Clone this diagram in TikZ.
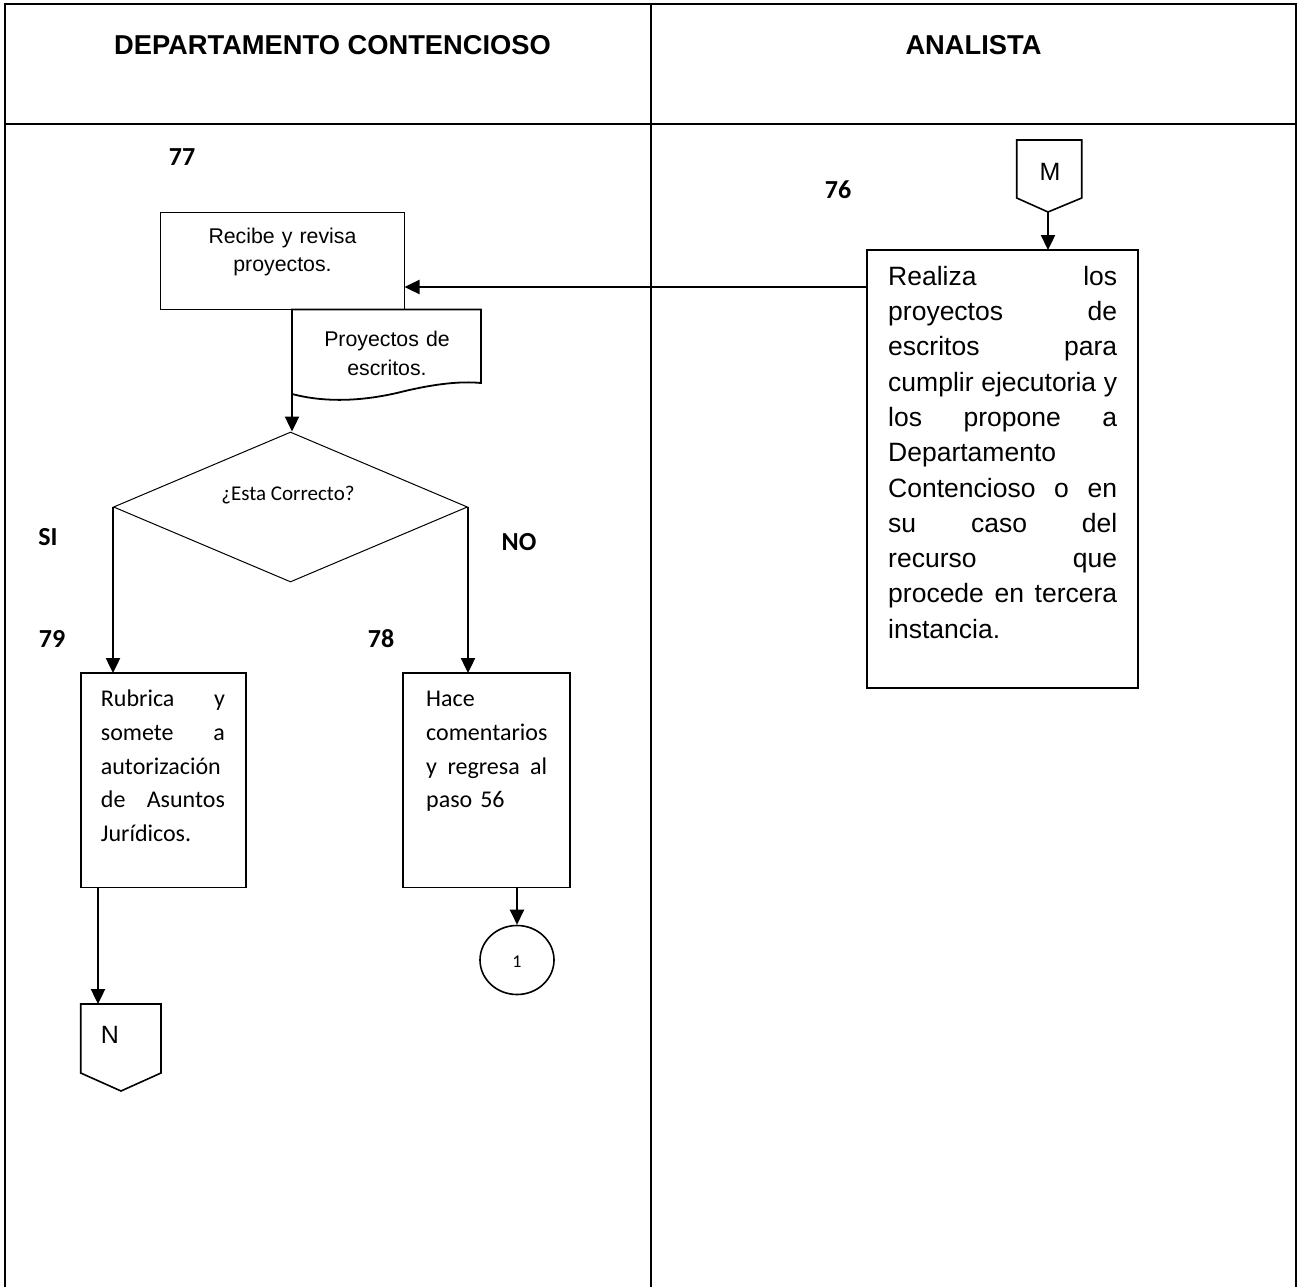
\documentclass[tikz,border=0pt]{standalone}
\usepackage{fontspec}
\setmainfont{Liberation Sans}
\newfontfamily\calfont{Carlito}
\usetikzlibrary{arrows.meta,shapes.geometric}
% stretchable inter-word gap for full-justified lines
\newcommand\jsp{\hskip .28em plus 1fill\relax}
\newcommand\jline[2]{\leavevmode\hbox to #1{#2}}

\begin{document}
\begin{tikzpicture}[x=1pt,y=-1pt,
  lane/.style={line width=1.6pt},
  procbox/.style={draw, line width=1.8pt, inner sep=0pt, outer sep=0pt},
  flow/.style={line width=2.4pt, -{Triangle[length=15pt,width=14pt]}},
  headtxt/.style={font=\bfseries\fontsize{27.3}{32}\selectfont, anchor=base, inner sep=0pt},
  steplbl/.style={font=\calfont\bfseries\fontsize{26}{30}\selectfont, anchor=base, inner sep=0pt},
  arialtxt/.style={inner sep=0pt, anchor=north west, align=left},
  calbtxt/.style={inner sep=0pt, anchor=north west, align=left,
    font=\calfont\fontsize{24}{33.7}\selectfont}
]
\useasboundingbox (0,0) rectangle (1299,1287);

% swimlane table
\draw[lane] (5,1287) -- (5,4) -- (1296,4) -- (1296,1287);
\draw[line width=2.6pt] (5,4) -- (1296,4);
\draw[lane] (5,124) -- (1296,124);
\draw[lane] (651,4) -- (651,1287);
\node[headtxt] (hdep) at (332.5,55) {DEPARTAMENTO CONTENCIOSO};
\node[headtxt] (hana) at (973.5,55) {ANALISTA};

% step numbers and branch labels
\node[steplbl] (n77) at (182,165) {77};
\node[steplbl] (n76) at (838,199) {76};
\node[steplbl] (si) at (48,545.7) {SI};
\node[steplbl] (no) at (519,550) {NO};
\node[steplbl] (n79) at (52,647.5) {79};
\node[steplbl] (n78) at (381,647.5) {78};

% off-page connector M
\coordinate (mtip) at (1048,212);
\draw[line width=1.6pt, line join=miter] (1016.7,140) -- (1081.7,140) -- (1081.7,198) -- (mtip) -- (1016.7,198) -- cycle;
\node[font=\fontsize{25}{30}\selectfont, anchor=base, inner sep=0pt] (mlbl) at (1050,180) {M};

% analyst process box
\node[procbox, minimum width=271pt, minimum height=438pt] (ana) at (1002.5,469) {};
\node[arialtxt, text width=229pt, font=\fontsize{26.5}{35.3}\selectfont] (anatxt) at (888,260.3) {%
\strut\jline{229pt}{Realiza\jsp los}\\
\jline{229pt}{proyectos\jsp de}\\
\jline{229pt}{escritos\jsp para}\\
\jline{229pt}{cumplir\jsp ejecutoria\jsp y}\\
\jline{229pt}{los\jsp propone\jsp a}\\
Departamento\\
\jline{229pt}{Contencioso\jsp o\jsp en}\\
\jline{229pt}{su\jsp caso\jsp del}\\
\jline{229pt}{recurso\jsp que}\\
\jline{229pt}{procede\jsp en\jsp tercera}\\
instancia.};
\draw[flow] (mtip) -- (mtip |- ana.north);

% receive and review
\node[procbox, minimum width=244pt, minimum height=97pt] (rec) at (282.5,261) {};
\node[inner sep=0pt, anchor=north, align=center, text width=230pt,
  font=\fontsize{21.3}{28.5}\selectfont] (rectxt) at (282.5,223) {\strut Recibe y revisa\\proyectos.};
\draw[flow] (ana.west |- 0,287) -- (rec.east |- 0,287);

% document shape
\coordinate (doctop) at (292,309.5);
\draw[line width=1.8pt, line join=miter] (doctop) -- (481,309.5) -- (481,383)
  .. controls (460,381) and (435,384) .. (405,391)
  .. controls (370,400) and (330,404) .. (292,394) -- cycle;
\node[inner sep=0pt, anchor=north, align=center, text width=180pt,
  font=\fontsize{21.3}{29}\selectfont] (doctxt) at (387,326.4) {\strut Proyectos de\\escritos.};

% decision
\node[diamond, draw, line width=1pt, minimum width=354pt, minimum height=150pt,
  inner sep=0pt] (dec) at (290.5,507) {};
\node[font=\calfont\fontsize{21}{25}\selectfont, anchor=base, inner sep=0pt] (dectxt) at (288,500) {¿Esta Correcto?};
\draw[flow] (rec.south -| doctop) -- (doctop |- dec.north);

% branch boxes
\node[procbox, minimum width=165pt, minimum height=214.5pt] (rub) at (163.2,780.25) {};
\node[calbtxt, text width=124pt] (rubtxt) at (100.7,683.1) {%
\strut\jline{124pt}{Rubrica\jsp y}\\
\jline{124pt}{somete\jsp a}\\
autorización\\
\jline{124pt}{de\jsp Asuntos}\\
Jurídicos.};
\node[procbox, minimum width=167pt, minimum height=214.5pt] (hace) at (486.5,780.25) {};
\node[calbtxt, text width=121pt] (hacetxt) at (426,683.1) {%
\strut Hace\\
comentarios\\
\jline{121pt}{y\jsp regresa\jsp al}\\
paso 56};
\draw[flow] (dec.west) -- (dec.west |- rub.north);
\draw[flow] (dec.east) -- (dec.east |- hace.north);

% on-page connector 1
\node[ellipse, draw, line width=1.6pt, minimum width=74pt, minimum height=69pt,
  inner sep=0pt] (circ) at (517,960) {};
\node[font=\calfont\fontsize{18}{22}\selectfont, anchor=base, inner sep=0pt] (circtxt) at (517,967) {1};
\draw[flow] (circ.north |- hace.south) -- (circ.north);

% off-page connector N
\coordinate (ntop) at (98,1004);
\draw[line width=1.6pt, line join=miter] (80.7,1004) -- (161,1004) -- (161,1073) -- (121,1091) -- (80.7,1073) -- cycle;
\node[font=\fontsize{25}{30}\selectfont, anchor=base, inner sep=0pt] (nlbl) at (110,1043) {N};
\draw[flow] (ntop |- rub.south) -- (ntop);
\end{tikzpicture}
\end{document}
